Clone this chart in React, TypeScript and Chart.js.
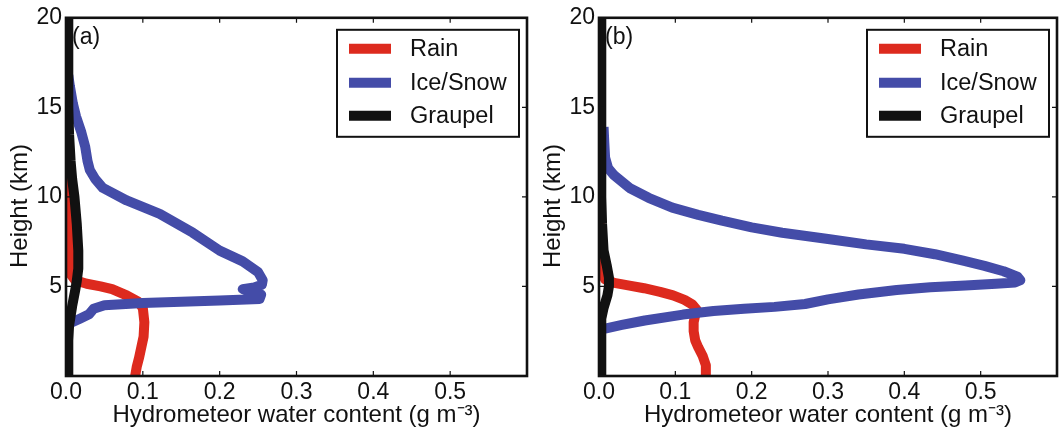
import React, { useEffect, useRef } from "react";
import { Chart, registerables } from "chart.js";

Chart.register(...registerables);

const FONT = "'Liberation Sans', Arial, Helvetica, sans-serif";

const SERIES_LABELS = ["Rain", "Ice/Snow", "Graupel"];
const SERIES_COLORS = ["#dd2a1e", "#444ca8", "#111111"];
const X_TICKS = [0, 0.1, 0.2, 0.3, 0.4, 0.5];
const Y_TICKS = [0, 5, 10, 15, 20];
const X_TITLE = "Hydrometeor water content (g m\u207B\u00B3)";
const Y_TITLE = "Height (km)";
const PANEL_LABELS = ["(a)", "(b)"];

// Panel (a)
const rainA_x = [0.002, 0.003, 0.004, 0.005, 0.006, 0.012, 0.027, 0.045, 0.06, 0.079, 0.094, 0.1, 0.102, 0.101, 0.098, 0.095, 0.092, 0.09];
const rainA_h = [11.2, 10, 8, 6.5, 5.7, 5.35, 5.15, 5.0, 4.85, 4.5, 4.15, 3.8, 3.0, 2.2, 1.6, 1.0, 0.5, 0];

const iceA_x = [0.003, 0.005, 0.009, 0.013, 0.02, 0.025, 0.028, 0.031, 0.038, 0.048, 0.079, 0.122, 0.165, 0.2, 0.23, 0.25, 0.256, 0.255, 0.245, 0.23, 0.24, 0.254, 0.252, 0.2, 0.1, 0.05, 0.036, 0.03, 0.018, 0.008, 0.003];
const iceA_h = [16.8, 16.2, 15.2, 14.5, 13.6, 12.8, 12.0, 11.5, 11.0, 10.5, 9.8, 9.05, 8.0, 7.0, 6.4, 5.8, 5.35, 5.1, 4.95, 4.85, 4.7, 4.55, 4.3, 4.22, 4.07, 3.95, 3.75, 3.45, 3.2, 3.0, 2.9];

const graupelA_x = [0.003, 0.003, 0.004, 0.006, 0.008, 0.011, 0.014, 0.016, 0.016, 0.014, 0.012, 0.008, 0.004, 0.003, 0.003];
const graupelA_h = [20, 15, 13.5, 12, 11, 10, 8.5, 7, 6, 5.3, 4.8, 3.9, 2.8, 2, 0];

// Panel (b)
const rainB_x = [0.001, 0.001, 0.002, 0.004, 0.008, 0.02, 0.04, 0.059, 0.08, 0.097, 0.112, 0.122, 0.128, 0.126, 0.124, 0.124, 0.126, 0.13, 0.136, 0.14, 0.14];
const rainB_h = [10.5, 7.0, 6.4, 5.8, 5.4, 5.2, 5.05, 4.9, 4.7, 4.5, 4.25, 4.0, 3.7, 3.4, 3.0, 2.5, 2.0, 1.6, 1.1, 0.6, 0];

const iceB_x = [0.006, 0.007, 0.008, 0.012, 0.02, 0.04, 0.065, 0.096, 0.13, 0.161, 0.2, 0.24, 0.3, 0.35, 0.4, 0.44, 0.477, 0.505, 0.53, 0.548, 0.552, 0.545, 0.52, 0.48, 0.434, 0.39, 0.34, 0.3, 0.27, 0.23, 0.19, 0.15, 0.11, 0.06, 0.03, 0.008];
const iceB_h = [13.9, 13.0, 12.2, 11.6, 11.2, 10.5, 9.95, 9.4, 9.0, 8.67, 8.3, 8.0, 7.65, 7.35, 7.1, 6.8, 6.44, 6.15, 5.85, 5.55, 5.35, 5.22, 5.15, 5.05, 4.95, 4.8, 4.55, 4.28, 4.02, 3.86, 3.76, 3.63, 3.43, 3.1, 2.85, 2.65];

const graupelB_x = [0.003, 0.003, 0.004, 0.006, 0.01, 0.013, 0.013, 0.011, 0.006, 0.003, 0.003, 0.003];
const graupelB_h = [20, 10, 8.5, 7, 6.2, 5.5, 5.0, 4.5, 3.8, 3.2, 2, 0];

const toPts = (xs: number[], hs: number[]) => xs.map((x, i) => ({ x, y: hs[i] }));

const framePlugin = {
  id: "frame",
  afterDatasetsDraw(chart: any, _args: any, opts: any) {
    const { ctx, chartArea: a, scales } = chart;
    ctx.save();
    // inward ticks on all four sides
    ctx.strokeStyle = "#111";
    ctx.lineWidth = 1.2;
    ctx.beginPath();
    X_TICKS.forEach((v) => {
      const px = scales.x.getPixelForValue(v);
      ctx.moveTo(px, a.bottom);
      ctx.lineTo(px, a.bottom - 5);
      ctx.moveTo(px, a.top);
      ctx.lineTo(px, a.top + 5);
    });
    Y_TICKS.forEach((v) => {
      const py = scales.y.getPixelForValue(v);
      ctx.moveTo(a.left, py);
      ctx.lineTo(a.left + 5, py);
      ctx.moveTo(a.right, py);
      ctx.lineTo(a.right - 5, py);
    });
    ctx.stroke();
    // frame
    ctx.lineWidth = 2.6;
    ctx.strokeStyle = "#111";
    ctx.strokeRect(a.left, a.top, a.right - a.left, a.bottom - a.top);
    // panel label
    ctx.fillStyle = "#111";
    ctx.font = `23px ${FONT}`;
    ctx.textAlign = "left";
    ctx.textBaseline = "middle";
    ctx.fillText(opts.label, a.left + 6, a.top + 20);
    // y axis title
    ctx.save();
    ctx.translate(opts.yTitleX, opts.yTitleY);
    ctx.rotate(-Math.PI / 2);
    ctx.textAlign = "center";
    ctx.textBaseline = "middle";
    ctx.font = `24px ${FONT}`;
    ctx.fillText(Y_TITLE, 0, 0);
    ctx.restore();
    // legend box
    const bw = 182;
    const bh = 107;
    const bx = a.right - 8 - bw;
    const by = a.top + 12;
    ctx.fillStyle = "#fff";
    ctx.fillRect(bx, by, bw, bh);
    ctx.lineWidth = 2;
    ctx.strokeStyle = "#111";
    ctx.strokeRect(bx, by, bw, bh);
    const rows = [19, 53, 86];
    chart.data.datasets.forEach((ds: any, i: number) => {
      const y = by + rows[i];
      ctx.strokeStyle = ds.borderColor;
      ctx.lineWidth = 10;
      ctx.lineCap = "butt";
      ctx.beginPath();
      ctx.moveTo(bx + 12, y);
      ctx.lineTo(bx + 54, y);
      ctx.stroke();
      ctx.fillStyle = "#111";
      ctx.font = `23.5px ${FONT}`;
      ctx.textAlign = "left";
      ctx.textBaseline = "middle";
      ctx.fillText(ds.label, bx + 73, y + 1);
    });
    ctx.restore();
  },
};

function makeConfig(
  series: { xs: number[]; hs: number[] }[],
  label: string,
  yAxisWidth: number,
  yTitleX: number,
  rightPad: number
): any {
  return {
    type: "scatter",
    data: {
      datasets: series.map((s, i) => ({
        label: SERIES_LABELS[i],
        data: toPts(s.xs, s.hs),
        showLine: true,
        borderColor: SERIES_COLORS[i],
        backgroundColor: SERIES_COLORS[i],
        borderWidth: 10,
        borderCapStyle: "butt",
        borderJoinStyle: "round",
        pointRadius: 0,
        pointHoverRadius: 0,
        tension: 0,
        order: 2 - i,
      })),
    },
    options: {
      animation: false,
      responsive: false,
      maintainAspectRatio: false,
      events: [],
      layout: { padding: { top: 16, right: rightPad, left: 0, bottom: 0 } },
      plugins: {
        legend: { display: false },
        tooltip: { enabled: false },
        frame: { label, yTitleX, yTitleY: 206 },
      },
      scales: {
        x: {
          type: "linear",
          min: 0,
          max: 0.6,
          afterFit: (s: any) => {
            s.height = 56;
          },
          grid: { display: false, drawTicks: false },
          border: { display: false },
          ticks: {
            stepSize: 0.1,
            autoSkip: false,
            maxRotation: 0,
            padding: 3,
            color: "#111",
            font: { family: FONT, size: 23 },
            callback: (v: number) => (v > 0.55 ? "" : Number(v).toFixed(1)),
          },
          title: {
            display: true,
            text: X_TITLE,
            color: "#111",
            font: { family: FONT, size: 24 },
            padding: { top: 0, bottom: 2 },
          },
        },
        y: {
          type: "linear",
          min: 0,
          max: 20,
          afterFit: (s: any) => {
            s.width = yAxisWidth;
          },
          grid: { display: false, drawTicks: false },
          border: { display: false },
          ticks: {
            stepSize: 5,
            padding: 4,
            color: "#111",
            font: { family: FONT, size: 23 },
            callback: (v: number) => (v === 0 ? "" : String(v)),
          },
          title: { display: false },
        },
      },
    },
    plugins: [framePlugin],
  };
}

export default function App() {
  const refA = useRef<HTMLCanvasElement>(null);
  const refB = useRef<HTMLCanvasElement>(null);

  useEffect(() => {
    const chartA = new Chart(
      refA.current!,
      makeConfig(
        [
          { xs: rainA_x, hs: rainA_h },
          { xs: iceA_x, hs: iceA_h },
          { xs: graupelA_x, hs: graupelA_h },
        ],
        PANEL_LABELS[0],
        66,
        20,
        2
      )
    );
    const chartB = new Chart(
      refB.current!,
      makeConfig(
        [
          { xs: rainB_x, hs: rainB_h },
          { xs: iceB_x, hs: iceB_h },
          { xs: graupelB_x, hs: graupelB_h },
        ],
        PANEL_LABELS[1],
        69,
        23,
        1
      )
    );
    return () => {
      chartA.destroy();
      chartB.destroy();
    };
  }, []);

  return (
    <div style={{ position: "fixed", left: 0, top: 0, width: 1060, height: 432, background: "#fff", overflow: "hidden" }}>
      <canvas ref={refA} width={530} height={432} style={{ position: "absolute", left: 0, top: 0, width: 530, height: 432, display: "block" }} />
      <canvas ref={refB} width={530} height={432} style={{ position: "absolute", left: 530, top: 0, width: 530, height: 432, display: "block" }} />
    </div>
  );
}
